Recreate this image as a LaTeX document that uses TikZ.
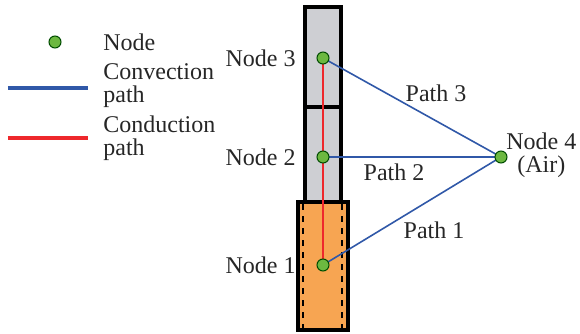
\documentclass[tikz,border=0pt]{standalone}
\usepackage{fontspec}
\setmainfont{Liberation Serif}
\begin{document}
\begin{tikzpicture}[x=0.5pt,y=-0.5pt,
  lbl/.style={font=\rmfamily\fontsize{12}{11.5}\selectfont, text=black!85, inner sep=0pt},
  dot/.style={circle, minimum size=6pt, inner sep=0pt, line width=0.5pt},
  conv/.style={line width=0.8pt},
  cond/.style={line width=0.6pt},
  box/.style={draw=black, line width=2pt}]
\definecolor{boxgray}{RGB}{206,207,211}
\definecolor{boxorange}{RGB}{247,165,82}
\definecolor{dotgreen}{RGB}{108,184,64}
\definecolor{convblue}{RGB}{48,88,168}
\definecolor{condred}{RGB}{238,40,44}
\tikzset{dot/.append style={fill=dotgreen, draw=black!70!green},
  conv/.append style={draw=convblue}, cond/.append style={draw=condred}}
\useasboundingbox (0,0) rectangle (580,333);
% column
\filldraw[box, fill=boxgray] (305,7) rectangle (341,202);
\draw[box] (305,107) -- (341,107);
\filldraw[box, fill=boxorange] (298,202) rectangle (348,330);
\draw[dashed, line width=0.6pt] (303,204) -- (303,328);
\draw[dashed, line width=0.6pt] (342,204) -- (342,328);
% nodes
\coordinate (n1) at (323,265);
\coordinate (n2) at (323,157);
\coordinate (n3) at (323,58);
\coordinate (n4) at (501,157);
\draw[cond] (n1) -- (n3);
\draw[conv] (n3) -- (n4);
\draw[conv] (n2) -- (n4);
\draw[conv] (n1) -- (n4);
\node[dot] (d1) at (n1) {};
\node[dot] (d2) at (n2) {};
\node[dot] (d3) at (n3) {};
\node[dot] (d4) at (n4) {};
\node[lbl, anchor=east] (l3) at (296,58) {Node 3};
\node[lbl, anchor=east] (l2) at (296,157) {Node 2};
\node[lbl, anchor=east] (l1) at (296,265) {Node 1};
\node[lbl, anchor=west, align=center] (l4) at (506,155) {Node 4\\(Air)};
\node[lbl] (p3) at (436,93) {Path 3};
\node[lbl] (p2) at (394,172) {Path 2};
\node[lbl] (p1) at (434,230) {Path 1};
% legend
\node[dot] (ld) at (55,42) {};
\node[lbl, anchor=west] (ln) at (103,42) {Node};
\coordinate (cb1) at (8,88); \coordinate (cb2) at (88,88);
\draw[conv, line width=2pt] (cb1) -- (cb2);
\node[lbl, anchor=west, align=left] (lc) at (103,86) {Convection\\path};
\coordinate (cr1) at (8,138); \coordinate (cr2) at (88,138);
\draw[cond, line width=2pt] (cr1) -- (cr2);
\node[lbl, anchor=west, align=left] (lcd) at (103,138) {Conduction\\path};
\end{tikzpicture}
\end{document}
